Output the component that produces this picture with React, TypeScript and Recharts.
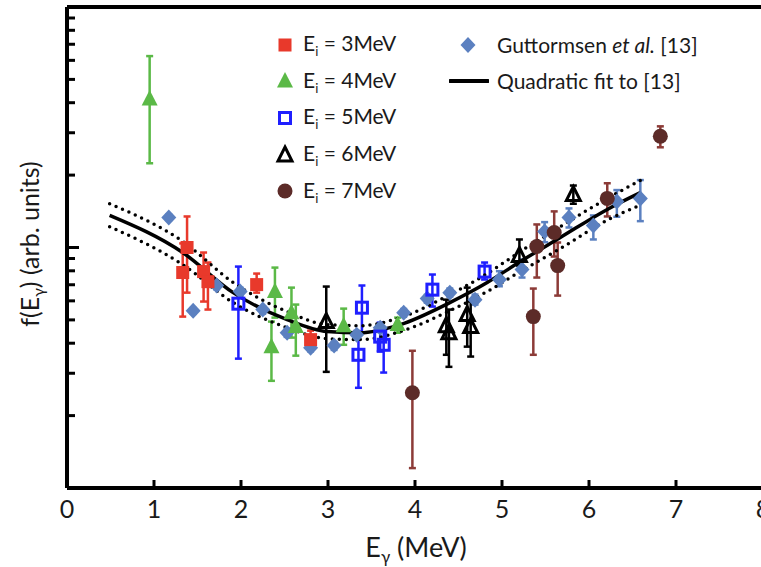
import React from 'react'
import { ComposedChart, Scatter, Line, XAxis, YAxis, ErrorBar, ReferenceLine } from 'recharts'

const FONT = 'Lato, "Open Sans", sans-serif'
const INK = '#1a1a1a'

// axis ticks: E in MeV, f(E) on a log scale (arb. units)
const xTicks = [0, 1, 2, 3, 4, 5, 6, 7, 8]
const yTicks = [0.1, 0.2, 0.3, 0.4, 0.5, 0.6, 0.7, 0.8, 0.9, 1, 2, 3, 4, 5, 6, 7, 8, 9, 10]

// Ei = 3 MeV
const e3X = [1.38, 1.33, 1.57, 1.62, 2.18, 2.8]
const e3Y = [1.0, 0.787, 0.794, 0.721, 0.701, 0.414]
const e3Lo = [0.649, 0.516, 0.596, 0.552, 0.649, 0.383]
const e3Hi = [1.346, 1.04, 0.953, 0.866, 0.779, 0.451]

// Ei = 4 MeV
const e4X = [0.95, 2.39, 2.35, 2.58, 2.63, 3.18, 3.8]
const e4Y = [4.14, 0.656, 0.387, 0.536, 0.469, 0.473, 0.478]
const e4Lo = [2.24, 0.511, 0.279, 0.422, 0.355, 0.394, 0.442]
const e4Hi = [6.25, 0.825, 0.492, 0.681, 0.579, 0.557, 0.511]

// Ei = 5 MeV
const e5X = [1.97, 3.39, 3.35, 3.6, 3.64, 4.2, 4.8]
const e5Y = [0.584, 0.562, 0.358, 0.426, 0.394, 0.668, 0.794]
const e5Lo = [0.345, 0.442, 0.261, 0.369, 0.302, 0.568, 0.736]
const e5Hi = [0.833, 0.695, 0.447, 0.487, 0.455, 0.772, 0.866]

// Ei = 6 MeV
const e6X = [2.98, 4.36, 4.39, 4.6, 4.64, 5.2, 5.82]
const e6Y = [0.492, 0.473, 0.442, 0.526, 0.469, 0.926, 1.66]
const e6Lo = [0.304, 0.358, 0.319, 0.387, 0.352, 0.841, 1.52]
const e6Hi = [0.688, 0.607, 0.552, 0.681, 0.596, 1.08, 1.81]

// Ei = 7 MeV
const e7X = [3.97, 5.36, 5.4, 5.6, 5.64, 6.21, 6.82]
const e7Y = [0.249, 0.516, 1.01, 1.155, 0.841, 1.6, 2.9]
const e7Lo = [0.121, 0.358, 0.75, 0.917, 0.631, 1.346, 2.61]
const e7Hi = [0.372, 0.675, 1.247, 1.413, 1.049, 1.85, 3.19]

// Guttormsen et al. [13]
const gX = [1.17, 1.45, 1.72, 1.99, 2.25, 2.53, 2.8, 3.07, 3.33, 3.6, 3.87, 4.14, 4.4, 4.69, 4.97, 5.23, 5.49, 5.77, 6.05, 6.32, 6.59]
const gY = [1.334, 0.546, 0.695, 0.656, 0.552, 0.442, 0.383, 0.391, 0.434, 0.464, 0.536, 0.613, 0.649, 0.607, 0.736, 0.81, 1.166, 1.334, 1.235, 1.554, 1.6]
const gLo = [1.3, 0.53, 0.67, 0.63, 0.53, 0.425, 0.37, 0.375, 0.415, 0.445, 0.515, 0.59, 0.625, 0.579, 0.69, 0.75, 1.052, 1.211, 1.08, 1.342, 1.287]
const gHi = [1.37, 0.56, 0.72, 0.68, 0.57, 0.46, 0.4, 0.405, 0.45, 0.48, 0.555, 0.635, 0.675, 0.637, 0.797, 0.891, 1.275, 1.454, 1.359, 1.733, 1.907]

// quadratic fit to [13] and its band
const fitX = [0.49, 1.33, 1.91, 2.53, 2.99, 3.37, 3.83, 4.4, 4.83, 5.21, 5.67, 6.21, 6.59]
const fitMid = [1.36, 0.953, 0.649, 0.501, 0.447, 0.442, 0.478, 0.59, 0.715, 0.874, 1.1, 1.44, 1.69]
const fitUpper = [1.52, 1.06, 0.715, 0.541, 0.478, 0.473, 0.511, 0.637, 0.779, 0.962, 1.22, 1.6, 1.9]
const fitLower = [1.22, 0.849, 0.59, 0.464, 0.418, 0.414, 0.447, 0.546, 0.656, 0.794, 0.99, 1.3, 1.5]

const pts = (xs: number[], ys: number[], lo: number[], hi: number[]) =>
  xs.map((x, i) => ({ x, y: ys[i], err: [ys[i] - lo[i], hi[i] - ys[i]] }))

const fitData = fitX.map((x, i) => ({ x, mid: fitMid[i], upper: fitUpper[i], lower: fitLower[i] }))

type Mark = (cx: number, cy: number) => React.ReactElement

const square = (c: string): Mark => (cx, cy) => (
  <rect x={cx - 6.5} y={cy - 6.5} width={13} height={13} fill={c} />
)
const openSquare = (c: string): Mark => (cx, cy) => (
  <rect x={cx - 5.5} y={cy - 5.5} width={11} height={11} fill="none" stroke={c} strokeWidth={3} />
)
const triangle = (c: string): Mark => (cx, cy) => (
  <polygon points={`${cx},${cy - 9} ${cx + 8},${cy + 6.5} ${cx - 8},${cy + 6.5}`} fill={c} />
)
const openTriangle = (c: string): Mark => (cx, cy) => (
  <polygon points={`${cx},${cy - 8} ${cx + 7},${cy + 6} ${cx - 7},${cy + 6}`} fill="none" stroke={c} strokeWidth={3} />
)
const circle = (c: string): Mark => (cx, cy) => <circle cx={cx} cy={cy} r={7.5} fill={c} />
const diamond = (c: string): Mark => (cx, cy) => (
  <polygon points={`${cx},${cy - 8} ${cx + 7.5},${cy} ${cx},${cy + 8} ${cx - 7.5},${cy}`} fill={c} />
)

const beams = [
  { energy: 3, data: pts(e3X, e3Y, e3Lo, e3Hi), bar: '#e8392b', mark: square('#e8392b') },
  { energy: 4, data: pts(e4X, e4Y, e4Lo, e4Hi), bar: '#5bb947', mark: triangle('#5bb947') },
  { energy: 5, data: pts(e5X, e5Y, e5Lo, e5Hi), bar: '#1f1fff', mark: openSquare('#1f1fff') },
  { energy: 6, data: pts(e6X, e6Y, e6Lo, e6Hi), bar: '#000000', mark: openTriangle('#000000') },
  { energy: 7, data: pts(e7X, e7Y, e7Lo, e7Hi), bar: '#8c3b37', mark: circle('#5c2b28') },
]
const gutt = { data: pts(gX, gY, gLo, gHi), bar: '#5b80c0', mark: diamond('#5b80c0') }

const XTick = ({ x, y, payload }: any) => (
  <g>
    <line x1={x} x2={x} y1={y} y2={y - 8} stroke="#000" strokeWidth={3} />
    <text x={x} y={y + 30} textAnchor="middle" fontSize={25} fontFamily={FONT} fill={INK}>
      {payload.value}
    </text>
  </g>
)

const YTick = ({ x, y, payload }: any) => (
  <line x1={x} x2={x + (payload.value === 1 ? 12 : 8)} y1={y} y2={y} stroke="#000" strokeWidth={3} />
)

const XLabel = () => (
  <text x={416} y={557} textAnchor="middle" fontSize={27} fontFamily={FONT} fill={INK}>
    E<tspan dy={6} fontSize={17}>γ</tspan>
    <tspan dy={-6}> (MeV)</tspan>
  </text>
)

const YLabel = () => (
  <text transform="translate(39,244) rotate(-90)" textAnchor="middle" fontSize={25} fontFamily={FONT} fill={INK}>
    f(E<tspan dy={5} fontSize={16}>γ</tspan>
    <tspan dy={-5}>) (arb. units)</tspan>
  </text>
)

const rowTop = (i: number) => 45 + i * 36.7 - 12.5

export default function App() {
  return (
    <div style={{ position: 'absolute', left: 0, top: 0, width: 761, height: 567, overflow: 'hidden', background: '#fff' }}>
      <ComposedChart width={780} height={567} margin={{ top: 7, right: 17, bottom: 0, left: 0 }}>
        <XAxis
          type="number"
          dataKey="x"
          domain={[0, 8]}
          ticks={xTicks}
          interval={0}
          tickSize={0}
          tickMargin={0}
          tickLine={false}
          tick={<XTick />}
          height={79}
          axisLine={{ stroke: '#000', strokeWidth: 4 }}
          label={<XLabel />}
        />
        <YAxis
          type="number"
          dataKey="y"
          scale="log"
          domain={[0.1, 10]}
          allowDataOverflow
          ticks={yTicks}
          interval={0}
          tickSize={0}
          tickMargin={0}
          tickLine={false}
          tick={<YTick />}
          width={67}
          axisLine={{ stroke: '#000', strokeWidth: 4 }}
          label={<YLabel />}
        />
        <ReferenceLine y={10} stroke="#000" strokeWidth={4} />
        <Scatter data={gutt.data} isAnimationActive={false} shape={(p: any) => gutt.mark(p.cx, p.cy)}>
          <ErrorBar dataKey="err" direction="y" stroke={gutt.bar} strokeWidth={2.5} width={3.5} />
        </Scatter>
        {beams.map((b) => (
          <Scatter
            key={b.energy}
            data={b.data}
            isAnimationActive={false}
            shape={(p: any) => b.mark(p.cx, p.cy)}
          >
            <ErrorBar dataKey="err" direction="y" stroke={b.bar} strokeWidth={2.5} width={3.5} />
          </Scatter>
        ))}
        <Line data={fitData} dataKey="upper" type="monotone" stroke="#000" strokeWidth={3.5} strokeDasharray="0 7" strokeLinecap="round" dot={false} isAnimationActive={false} />
        <Line data={fitData} dataKey="lower" type="monotone" stroke="#000" strokeWidth={3.5} strokeDasharray="0 7" strokeLinecap="round" dot={false} isAnimationActive={false} />
        <Line data={fitData} dataKey="mid" type="monotone" stroke="#000" strokeWidth={3.5} dot={false} isAnimationActive={false} />
      </ComposedChart>

      <div style={{ position: 'absolute', left: 0, top: 0, width: 761, height: 567, fontFamily: FONT, fontSize: 21, color: INK, pointerEvents: 'none' }}>
        {beams.map((b, i) => (
          <div key={b.energy} style={{ position: 'absolute', left: 275, top: rowTop(i), height: 24, lineHeight: '24px', display: 'flex', alignItems: 'center', whiteSpace: 'nowrap' }}>
            <svg width={20} height={24}>{b.mark(10, 12)}</svg>
            <span style={{ marginLeft: 8 }}>
              E<span style={{ fontSize: 13, position: 'relative', top: 5 }}>i</span> = {b.energy}MeV
            </span>
          </div>
        ))}
        <div style={{ position: 'absolute', left: 458, top: rowTop(0), height: 24, lineHeight: '24px', display: 'flex', alignItems: 'center', whiteSpace: 'nowrap' }}>
          <svg width={20} height={24}>{gutt.mark(10, 12)}</svg>
          <span style={{ marginLeft: 19 }}>
            Guttormsen <i>et al.</i> [13]
          </span>
        </div>
        <div style={{ position: 'absolute', left: 449, top: rowTop(1), height: 24, lineHeight: '24px', display: 'flex', alignItems: 'center', whiteSpace: 'nowrap' }}>
          <svg width={40} height={24}>
            <line x1={1} x2={39} y1={12} y2={12} stroke="#000" strokeWidth={4} strokeLinecap="round" />
          </svg>
          <span style={{ marginLeft: 8 }}>Quadratic fit to [13]</span>
        </div>
      </div>
    </div>
  )
}
